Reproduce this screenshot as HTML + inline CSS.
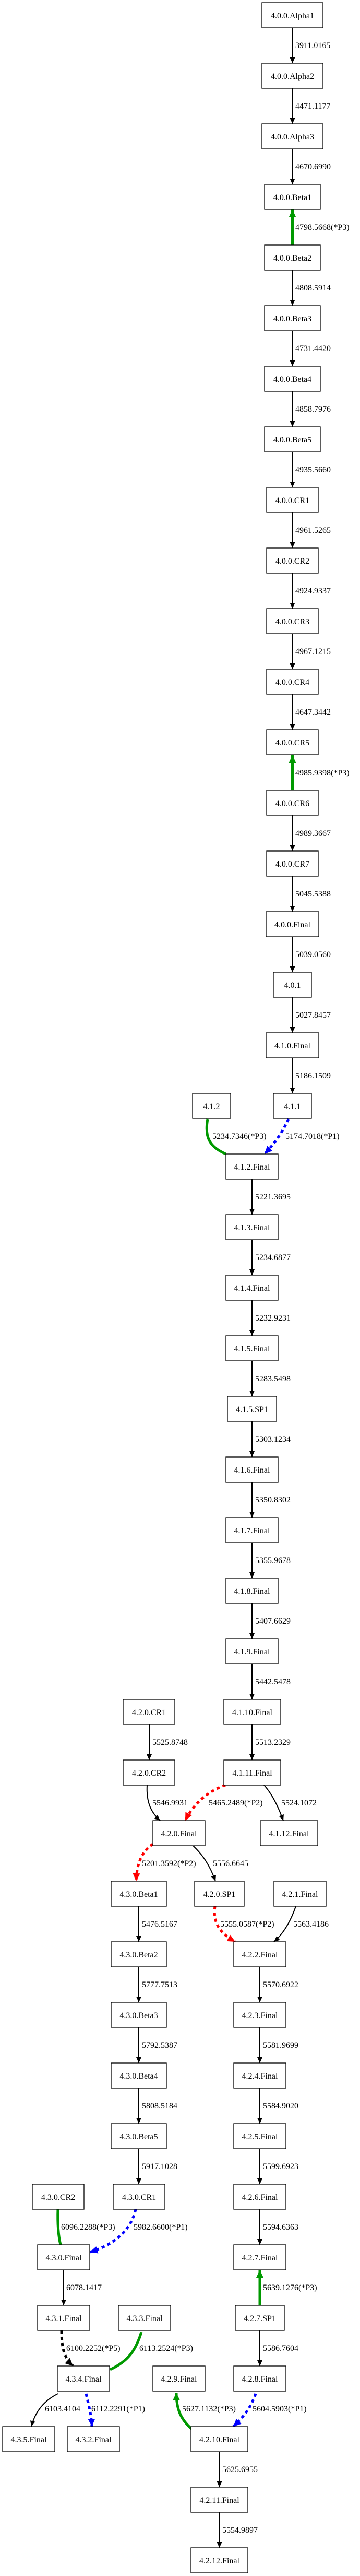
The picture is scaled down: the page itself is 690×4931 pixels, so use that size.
<!DOCTYPE html>
<html><head><meta charset="utf-8"><style>
html,body{margin:0;padding:0;background:#fff}
svg{display:block}
text{font-family:"Liberation Serif",serif;font-size:16px;fill:#000}
.n text{text-anchor:middle}
rect{fill:#fff;stroke:#000;stroke-width:1.3}
.k{stroke:#000;stroke-width:2;fill:none}
.g{stroke:#009900;stroke-width:5;fill:none}
.r{stroke:#ff0000;stroke-width:5;fill:none;stroke-dasharray:6,6}
.b{stroke:#0000ff;stroke-width:5;fill:none;stroke-dasharray:6,6}
.kd{stroke:#000;stroke-width:5;fill:none;stroke-dasharray:6,6}
</style></head><body>
<svg width="690" height="4931" viewBox="0 0 690 4931" xmlns="http://www.w3.org/2000/svg">
<defs>
<marker id="ak" markerUnits="userSpaceOnUse" markerWidth="12" markerHeight="12" refX="11" refY="6" orient="auto"><path d="M0,1 L11,6 L0,11 z" fill="#000"/></marker>
<marker id="ag" markerUnits="userSpaceOnUse" markerWidth="16" markerHeight="16" refX="15" refY="8" orient="auto"><path d="M0,1 L15,8 L0,15 z" fill="#009900"/></marker>
<marker id="ar" markerUnits="userSpaceOnUse" markerWidth="16" markerHeight="16" refX="15" refY="8" orient="auto"><path d="M0,1 L15,8 L0,15 z" fill="#ff0000"/></marker>
<marker id="ab" markerUnits="userSpaceOnUse" markerWidth="16" markerHeight="16" refX="15" refY="8" orient="auto"><path d="M0,1 L15,8 L0,15 z" fill="#0000ff"/></marker>
<marker id="akd" markerUnits="userSpaceOnUse" markerWidth="16" markerHeight="16" refX="15" refY="8" orient="auto"><path d="M0,1 L15,8 L0,15 z" fill="#000"/></marker>
</defs>

<g marker-end="url(#ak)">
<line class="k" x1="560.5" y1="53" x2="560.5" y2="121"/>
<line class="k" x1="560.5" y1="169" x2="560.5" y2="237"/>
<line class="k" x1="560.5" y1="285" x2="560.5" y2="353"/>
<line class="k" x1="560.5" y1="517" x2="560.5" y2="585"/>
<line class="k" x1="560.5" y1="633" x2="560.5" y2="701"/>
<line class="k" x1="560.5" y1="749" x2="560.5" y2="817"/>
<line class="k" x1="560.5" y1="865" x2="560.5" y2="933"/>
<line class="k" x1="560.5" y1="981" x2="560.5" y2="1049"/>
<line class="k" x1="560.5" y1="1097" x2="560.5" y2="1165"/>
<line class="k" x1="560.5" y1="1213" x2="560.5" y2="1281"/>
<line class="k" x1="560.5" y1="1329" x2="560.5" y2="1397"/>
<line class="k" x1="560.5" y1="1561" x2="560.5" y2="1629"/>
<line class="k" x1="560.5" y1="1677" x2="560.5" y2="1745"/>
<line class="k" x1="560.5" y1="1793" x2="560.5" y2="1861"/>
<line class="k" x1="560.5" y1="1909" x2="560.5" y2="1977"/>
<line class="k" x1="560.5" y1="2025" x2="560.5" y2="2093"/>
<line class="k" x1="483" y1="2257" x2="483" y2="2325"/>
<line class="k" x1="483" y1="2373" x2="483" y2="2441"/>
<line class="k" x1="483" y1="2489" x2="483" y2="2557"/>
<line class="k" x1="483" y1="2605" x2="483" y2="2673"/>
<line class="k" x1="483" y1="2721" x2="483" y2="2789"/>
<line class="k" x1="483" y1="2837" x2="483" y2="2905"/>
<line class="k" x1="483" y1="2953" x2="483" y2="3021"/>
<line class="k" x1="483" y1="3069" x2="483" y2="3137"/>
<line class="k" x1="483" y1="3185" x2="483" y2="3253"/>
<line class="k" x1="483" y1="3301" x2="483" y2="3369"/>
<line class="k" x1="286" y1="3301" x2="286" y2="3369"/>
<line class="k" x1="266" y1="3765" x2="266" y2="3833"/>
<line class="k" x1="266" y1="3881" x2="266" y2="3949"/>
<line class="k" x1="266" y1="3997" x2="266" y2="4065"/>
<line class="k" x1="266" y1="4113" x2="266" y2="4181"/>
<line class="k" x1="266" y1="3649" x2="266" y2="3717"/>
<line class="k" x1="498" y1="3765" x2="498" y2="3833"/>
<line class="k" x1="498" y1="3881" x2="498" y2="3949"/>
<line class="k" x1="498" y1="3997" x2="498" y2="4065"/>
<line class="k" x1="498" y1="4113" x2="498" y2="4181"/>
<line class="k" x1="498" y1="4229" x2="498" y2="4297"/>
<line class="k" x1="498" y1="4461" x2="498" y2="4529"/>
<line class="k" x1="122" y1="4345" x2="122" y2="4413"/>
<line class="k" x1="420.5" y1="4693" x2="420.5" y2="4761"/>
<line class="k" x1="420.5" y1="4809" x2="420.5" y2="4877"/>
</g>
<g marker-end="url(#ag)">
<line class="g" x1="560.5" y1="469" x2="560.5" y2="401"/>
<line class="g" x1="560.5" y1="1513" x2="560.5" y2="1445"/>
<line class="g" x1="498" y1="4413" x2="498" y2="4345"/>
</g>
<path class="g" d="M398,2142 C392,2175 400,2195 433,2209"/>
<path class="b" d="M553,2142 C540,2170 525,2190 507,2209" marker-end="url(#ab)"/>
<path class="r" d="M432,3417 C395,3430 370,3455 355,3485" marker-end="url(#ar)"/>
<path class="k" d="M506,3417 C520,3432 532,3455 543,3485" marker-end="url(#ak)"/>
<path class="k" d="M282,3417 C280,3450 290,3470 307,3485" marker-end="url(#ak)"/>
<path class="r" d="M293,3530 C270,3545 262,3570 261,3601" marker-end="url(#ar)"/>
<path class="k" d="M370,3533 C388,3550 402,3570 413,3601" marker-end="url(#ak)"/>
<path class="r" d="M412,3649 C408,3680 420,3700 451,3717" marker-end="url(#ar)"/>
<path class="k" d="M567,3649 C558,3675 545,3700 525,3717" marker-end="url(#ak)"/>
<path class="g" d="M111,4229 C110,4260 112,4280 116,4297"/>
<path class="b" d="M260,4229 C250,4275 210,4300 172,4311" marker-end="url(#ab)"/>
<path class="kd" d="M118,4461 C118,4500 125,4515 140,4529" marker-end="url(#akd)"/>
<path class="g" d="M271,4464 C260,4500 245,4520 211,4536"/>
<path class="k" d="M111,4582 C85,4595 68,4615 60,4645" marker-end="url(#ak)"/>
<path class="b" d="M165,4582 C170,4605 175,4620 176,4645" marker-end="url(#ab)"/>
<path class="g" d="M368,4650 C345,4630 338,4610 338,4580" marker-end="url(#ag)"/>
<path class="b" d="M490,4582 C480,4610 468,4625 447,4645" marker-end="url(#ab)"/>

<g>
<text x="566" y="92">3911.0165</text>
<text x="566" y="208">4471.1177</text>
<text x="566" y="324">4670.6990</text>
<text x="566" y="440">4798.5668(*P3)</text>
<text x="566" y="556">4808.5914</text>
<text x="566" y="672">4731.4420</text>
<text x="566" y="788">4858.7976</text>
<text x="566" y="904">4935.5660</text>
<text x="566" y="1020">4961.5265</text>
<text x="566" y="1136">4924.9337</text>
<text x="566" y="1252">4967.1215</text>
<text x="566" y="1368">4647.3442</text>
<text x="566" y="1484">4985.9398(*P3)</text>
<text x="566" y="1600">4989.3667</text>
<text x="566" y="1716">5045.5388</text>
<text x="566" y="1832">5039.0560</text>
<text x="566" y="1948">5027.8457</text>
<text x="566" y="2064">5186.1509</text>
<text x="407" y="2180">5234.7346(*P3)</text>
<text x="547" y="2180">5174.7018(*P1)</text>
<text x="489" y="2296">5221.3695</text>
<text x="489" y="2412">5234.6877</text>
<text x="489" y="2528">5232.9231</text>
<text x="489" y="2644">5283.5498</text>
<text x="489" y="2760">5303.1234</text>
<text x="489" y="2876">5350.8302</text>
<text x="489" y="2992">5355.9678</text>
<text x="489" y="3108">5407.6629</text>
<text x="489" y="3224">5442.5478</text>
<text x="489" y="3340">5513.2329</text>
<text x="292" y="3340">5525.8748</text>
<text x="292" y="3456">5546.9931</text>
<text x="400" y="3456">5465.2489(*P2)</text>
<text x="539" y="3456">5524.1072</text>
<text x="272" y="3572">5201.3592(*P2)</text>
<text x="408" y="3572">5556.6645</text>
<text x="272" y="3688">5476.5167</text>
<text x="422" y="3688">5555.0587(*P2)</text>
<text x="562" y="3688">5563.4186</text>
<text x="272" y="3804">5777.7513</text>
<text x="504" y="3804">5570.6922</text>
<text x="272" y="3920">5792.5387</text>
<text x="504" y="3920">5581.9699</text>
<text x="272" y="4036">5808.5184</text>
<text x="504" y="4036">5584.9020</text>
<text x="272" y="4152">5917.1028</text>
<text x="504" y="4152">5599.6923</text>
<text x="117" y="4268">6096.2288(*P3)</text>
<text x="256" y="4268">5982.6600(*P1)</text>
<text x="504" y="4268">5594.6363</text>
<text x="127" y="4384">6078.1417</text>
<text x="504" y="4384">5639.1276(*P3)</text>
<text x="127" y="4500">6100.2252(*P5)</text>
<text x="267" y="4500">6113.2524(*P3)</text>
<text x="504" y="4500">5586.7604</text>
<text x="86" y="4616">6103.4104</text>
<text x="175" y="4616">6112.2291(*P1)</text>
<text x="349" y="4616">5627.1132(*P3)</text>
<text x="484" y="4616">5604.5903(*P1)</text>
<text x="426" y="4732">5625.6955</text>
<text x="426" y="4848">5554.9897</text>
</g>

<g class="n">
<rect x="502" y="5" width="117" height="48"/><text x="560.5" y="35">4.0.0.Alpha1</text>
<rect x="502" y="121" width="117" height="48"/><text x="560.5" y="151">4.0.0.Alpha2</text>
<rect x="502" y="237" width="117" height="48"/><text x="560.5" y="267">4.0.0.Alpha3</text>
<rect x="507" y="353" width="107" height="48"/><text x="560.5" y="383">4.0.0.Beta1</text>
<rect x="507" y="469" width="107" height="48"/><text x="560.5" y="499">4.0.0.Beta2</text>
<rect x="507" y="585" width="107" height="48"/><text x="560.5" y="615">4.0.0.Beta3</text>
<rect x="507" y="701" width="107" height="48"/><text x="560.5" y="731">4.0.0.Beta4</text>
<rect x="507" y="817" width="107" height="48"/><text x="560.5" y="847">4.0.0.Beta5</text>
<rect x="511" y="933" width="99" height="48"/><text x="560.5" y="963">4.0.0.CR1</text>
<rect x="511" y="1049" width="99" height="48"/><text x="560.5" y="1079">4.0.0.CR2</text>
<rect x="511" y="1165" width="99" height="48"/><text x="560.5" y="1195">4.0.0.CR3</text>
<rect x="511" y="1281" width="99" height="48"/><text x="560.5" y="1311">4.0.0.CR4</text>
<rect x="511" y="1397" width="99" height="48"/><text x="560.5" y="1427">4.0.0.CR5</text>
<rect x="511" y="1513" width="99" height="48"/><text x="560.5" y="1543">4.0.0.CR6</text>
<rect x="511" y="1629" width="99" height="48"/><text x="560.5" y="1659">4.0.0.CR7</text>
<rect x="510" y="1745" width="101" height="48"/><text x="560.5" y="1775">4.0.0.Final</text>
<rect x="524" y="1861" width="73" height="48"/><text x="560.5" y="1891">4.0.1</text>
<rect x="510" y="1977" width="101" height="48"/><text x="560.5" y="2007">4.1.0.Final</text>
<rect x="524" y="2093" width="73" height="48"/><text x="560.5" y="2123">4.1.1</text>
<rect x="369" y="2093" width="73" height="48"/><text x="405.5" y="2123">4.1.2</text>
<rect x="433" y="2209" width="100" height="48"/><text x="483" y="2239">4.1.2.Final</text>
<rect x="433" y="2325" width="100" height="48"/><text x="483" y="2355">4.1.3.Final</text>
<rect x="433" y="2441" width="100" height="48"/><text x="483" y="2471">4.1.4.Final</text>
<rect x="433" y="2557" width="100" height="48"/><text x="483" y="2587">4.1.5.Final</text>
<rect x="436" y="2673" width="94" height="48"/><text x="483" y="2703">4.1.5.SP1</text>
<rect x="433" y="2789" width="100" height="48"/><text x="483" y="2819">4.1.6.Final</text>
<rect x="433" y="2905" width="100" height="48"/><text x="483" y="2935">4.1.7.Final</text>
<rect x="433" y="3021" width="100" height="48"/><text x="483" y="3051">4.1.8.Final</text>
<rect x="433" y="3137" width="100" height="48"/><text x="483" y="3167">4.1.9.Final</text>
<rect x="429" y="3253" width="109" height="48"/><text x="483.5" y="3283">4.1.10.Final</text>
<rect x="429" y="3369" width="109" height="48"/><text x="483.5" y="3399">4.1.11.Final</text>
<rect x="236" y="3253" width="99" height="48"/><text x="285.5" y="3283">4.2.0.CR1</text>
<rect x="236" y="3369" width="99" height="48"/><text x="285.5" y="3399">4.2.0.CR2</text>
<rect x="293" y="3485" width="100" height="48"/><text x="343" y="3515">4.2.0.Final</text>
<rect x="499" y="3485" width="110" height="48"/><text x="554" y="3515">4.1.12.Final</text>
<rect x="213" y="3601" width="106" height="48"/><text x="266" y="3631">4.3.0.Beta1</text>
<rect x="373" y="3601" width="95" height="48"/><text x="420.5" y="3631">4.2.0.SP1</text>
<rect x="525" y="3601" width="100" height="48"/><text x="575" y="3631">4.2.1.Final</text>
<rect x="213" y="3717" width="106" height="48"/><text x="266" y="3747">4.3.0.Beta2</text>
<rect x="213" y="3833" width="106" height="48"/><text x="266" y="3863">4.3.0.Beta3</text>
<rect x="213" y="3949" width="106" height="48"/><text x="266" y="3979">4.3.0.Beta4</text>
<rect x="213" y="4065" width="106" height="48"/><text x="266" y="4095">4.3.0.Beta5</text>
<rect x="217" y="4181" width="99" height="48"/><text x="266.5" y="4211">4.3.0.CR1</text>
<rect x="62" y="4181" width="99" height="48"/><text x="111.5" y="4211">4.3.0.CR2</text>
<rect x="448" y="3717" width="100" height="48"/><text x="498" y="3747">4.2.2.Final</text>
<rect x="448" y="3833" width="100" height="48"/><text x="498" y="3863">4.2.3.Final</text>
<rect x="448" y="3949" width="100" height="48"/><text x="498" y="3979">4.2.4.Final</text>
<rect x="448" y="4065" width="100" height="48"/><text x="498" y="4095">4.2.5.Final</text>
<rect x="448" y="4181" width="100" height="48"/><text x="498" y="4211">4.2.6.Final</text>
<rect x="448" y="4297" width="100" height="48"/><text x="498" y="4327">4.2.7.Final</text>
<rect x="451" y="4413" width="94" height="48"/><text x="498" y="4443">4.2.7.SP1</text>
<rect x="448" y="4529" width="100" height="48"/><text x="498" y="4559">4.2.8.Final</text>
<rect x="72" y="4297" width="100" height="48"/><text x="122" y="4327">4.3.0.Final</text>
<rect x="72" y="4413" width="100" height="48"/><text x="122" y="4443">4.3.1.Final</text>
<rect x="227" y="4413" width="100" height="48"/><text x="277" y="4443">4.3.3.Final</text>
<rect x="110" y="4529" width="100" height="48"/><text x="160" y="4559">4.3.4.Final</text>
<rect x="293" y="4529" width="100" height="48"/><text x="343" y="4559">4.2.9.Final</text>
<rect x="5" y="4645" width="100" height="48"/><text x="55" y="4675">4.3.5.Final</text>
<rect x="129" y="4645" width="100" height="48"/><text x="179" y="4675">4.3.2.Final</text>
<rect x="366" y="4645" width="109" height="48"/><text x="420.5" y="4675">4.2.10.Final</text>
<rect x="366" y="4761" width="109" height="48"/><text x="420.5" y="4791">4.2.11.Final</text>
<rect x="366" y="4877" width="109" height="48"/><text x="420.5" y="4907">4.2.12.Final</text>
</g>
</svg>
</body></html>
